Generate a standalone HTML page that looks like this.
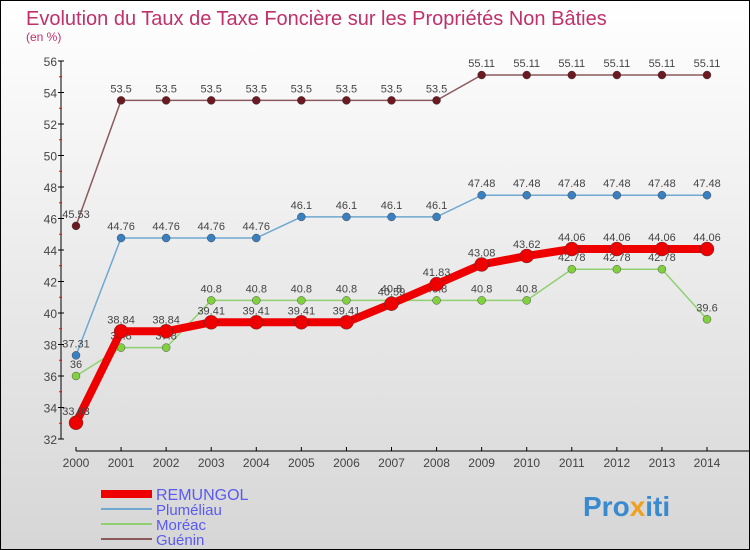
<!DOCTYPE html>
<html><head><meta charset="utf-8"><style>
body{margin:0}
#c{width:748px;height:548px;border:1px solid #000;background:linear-gradient(#fff,#d6d6d6);position:relative;font-family:"Liberation Sans",sans-serif;overflow:hidden}
</style></head><body>
<div id="c">
<svg id="s" width="748" height="548" xmlns="http://www.w3.org/2000/svg">
<text x="25" y="24" font-size="20" fill="#c0306a">Evolution du Taux de Taxe Foncière sur les Propriétés Non Bâties</text>
<text x="25" y="40" font-size="12" fill="#c0306a">(en %)</text>
<g id="axes"></g><g id="series"></g><g id="legend"></g>
<text x="582" y="515" font-size="28" font-weight="bold" fill="#3a8ad0">Pro<tspan fill="#f0a020">x</tspan>iti</text>
</svg></div>
<script>
const years=[2000,2001,2002,2003,2004,2005,2006,2007,2008,2009,2010,2011,2012,2013,2014];
const yTicks=[32,34,36,38,40,42,44,46,48,50,52,54,56];
const remungol=[33.03,38.84,38.84,39.41,39.41,39.41,39.41,40.59,41.83,43.08,43.62,44.06,44.06,44.06,44.06];
const plumeliau=[37.31,44.76,44.76,44.76,44.76,46.1,46.1,46.1,46.1,47.48,47.48,47.48,47.48,47.48,47.48];
const moreac=[36,37.8,37.8,40.8,40.8,40.8,40.8,40.8,40.8,40.8,40.8,42.78,42.78,42.78,39.6];
const guenin=[45.53,53.5,53.5,53.5,53.5,53.5,53.5,53.5,53.5,55.11,55.11,55.11,55.11,55.11,55.11];
const NS='http://www.w3.org/2000/svg';
const X=i=>75+i*(631/14), Y=v=>438-(v-32)*(378/24);
function mk(t,a,p){const e=document.createElementNS(NS,t);for(const k in a)e.setAttribute(k,a[k]);p.appendChild(e);return e;}
const ax=document.getElementById('axes');
let l=mk('line',{x1:60,y1:60,x2:60,y2:438,stroke:'#000'},ax);


l=mk('line',{x1:75,y1:450,x2:748,y2:450,stroke:'#000'},ax);


yTicks.forEach((v,i)=>{
 mk('line',{x1:57,y1:Y(v),x2:63,y2:Y(v),stroke:'#000'},ax);
 if(i<yTicks.length-1)mk('line',{x1:58,y1:Y(v+1),x2:61,y2:Y(v+1),stroke:'#f00'},ax);
 const t=mk('text',{x:56,y:Y(v)+5,'font-size':12,fill:'#444','text-anchor':'end'},ax);t.textContent=v;
 
 
});
years.forEach((y,i)=>{
 mk('line',{x1:X(i),y1:446,x2:X(i),y2:450,stroke:'#000'},ax);
 const t=mk('text',{x:X(i),y:466,'font-size':12,fill:'#444','text-anchor':'middle'},ax);t.textContent=y;
 
 
});
const sg=document.getElementById('series');
const series=[
 {n:'guenin',d:guenin,c:'#6b1a22',lc:'#8b5a5e',w:1.5,r:4,label:'Guénin'},
 {n:'plumeliau',d:plumeliau,c:'#3a80c0',lc:'#6fa8d0',w:1.5,r:4,label:'Pluméliau'},
 {n:'moreac',d:moreac,c:'#80d040',lc:'#90d070',w:1.5,r:4,label:'Moréac'},
 {n:'remungol',d:remungol,c:'#ee0000',lc:'#ee0000',w:8,r:7,label:'REMUNGOL'}];
series.forEach(s=>{
 const g=mk('g',{},sg);
 
 
 const p=mk('polyline',{points:s.d.map((v,i)=>X(i)+','+Y(v)).join(' '),fill:'none',stroke:s.lc,'stroke-width':s.w},g);
 
 
 s.d.forEach((v,i)=>{
  const c=mk('circle',{cx:X(i),cy:Y(v),r:s.r,fill:s.c,stroke:'#333','stroke-width':0.4},g);
  
  
  const t=mk('text',{x:X(i),y:Y(v)-8,'font-size':11,fill:'#444','text-anchor':'middle'},g);t.textContent=v;
  
  
 });
});
const lg=document.getElementById('legend');
const order=[series[3],series[1],series[2],series[0]];
order.forEach((s,i)=>{
 const y=493+i*15;
 const g=mk('g',{},lg);
 
 
 mk('line',{x1:100,y1:y,x2:151,y2:y,stroke:s.lc,'stroke-width':i==0?8:2},g);
 const t=mk('text',{x:155,y:y+6,'font-size':i==0?16:15,fill:'#5a5af0'},g);t.textContent=s.label;
});
</script>
</body></html>
